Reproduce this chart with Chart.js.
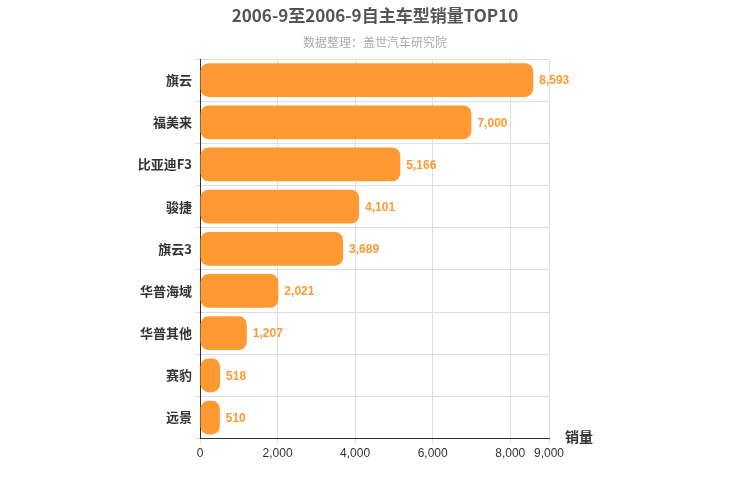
<!DOCTYPE html>
<html>
<head>
<meta charset="utf-8">
<script src="https://cdn.jsdelivr.net/npm/chart.js@4"></script>
<style>
body { margin: 0; background: #fff; }
#wrap { width: 750px; height: 500px; position: relative; }
</style>
</head>
<body>
<div id="wrap"><canvas id="c"></canvas></div>
<script>
const categorias = ['旗云', '福美来', '比亚迪F3', '骏捷', '旗云3', '华普海域', '华普其他', '赛豹', '远景'];
const vendas = [8593, 7000, 5166, 4101, 3689, 2021, 1207, 518, 510];
const ticksX = [0, 2000, 4000, 6000, 8000, 9000];

const laranja = '#ff9a33';

// titulo, rotulos de valor no fim de cada barra + nome do eixo
const rotulos = {
    id: 'rotulos',
    afterDatasetsDraw(chart) {
        const ctx = chart.ctx;
        const meta = chart.getDatasetMeta(0);
        ctx.save();
        ctx.font = 'bold 12px "Liberation Sans", Arial, sans-serif';
        ctx.fillStyle = laranja;
        ctx.textBaseline = 'middle';
        meta.data.forEach((bar, i) => {
            ctx.fillText(vendas[i].toLocaleString('en-US'), bar.x + 6, bar.y + 1);
        });
        ctx.fillStyle = '#333';
        ctx.font = 'bold 14px "Noto Sans CJK SC", sans-serif';
        ctx.fillText('销量', chart.chartArea.right + 16, chart.chartArea.bottom - 2);

        ctx.textAlign = 'center';
        ctx.fillStyle = '#555';
        ctx.font = 'bold 17px "Noto Sans CJK SC", sans-serif';
        ctx.fillText('2006-9至2006-9自主车型销量TOP10', 375, 16);
        ctx.fillStyle = '#aaa';
        ctx.font = '12px "Noto Sans CJK SC", sans-serif';
        ctx.fillText('数据整理：盖世汽车研究院', 375, 42);
        ctx.restore();
    }
};

new Chart(document.getElementById('c'), {
    type: 'bar',
    data: {
        labels: categorias,
        datasets: [{
            data: vendas,
            backgroundColor: laranja,
            borderRadius: 8,
            borderSkipped: false,
            categoryPercentage: 0.8,
            barPercentage: 1
        }]
    },
    options: {
        indexAxis: 'y',
        responsive: true,
        maintainAspectRatio: false,
        animation: false,
        layout: { padding: { left: 0, right: 201, top: 59, bottom: 36 } },
        plugins: {
            legend: { display: false },
            tooltip: { enabled: false }
        },
        scales: {
            x: {
                min: 0,
                max: 9000,
                afterBuildTicks: axis => { axis.ticks = ticksX.map(v => ({ value: v })); },
                ticks: {
                    color: '#333',
                    font: { size: 12, family: '"Liberation Sans", Arial, sans-serif' },
                    callback: v => v.toLocaleString('en-US')
                },
                grid: { color: '#ddd', drawTicks: true, tickLength: 5 },
                border: { color: '#333' }
            },
            y: {
                afterFit: axis => { axis.width = 200; },
                ticks: {
                    color: '#333',
                    font: { size: 13, weight: 'bold', family: '"Noto Sans CJK SC", sans-serif' }
                },
                grid: { offset: true, color: '#ddd', tickLength: 5 },
                border: { color: '#333' }
            }
        }
    },
    plugins: [rotulos]
});
</script>
</body>
</html>
